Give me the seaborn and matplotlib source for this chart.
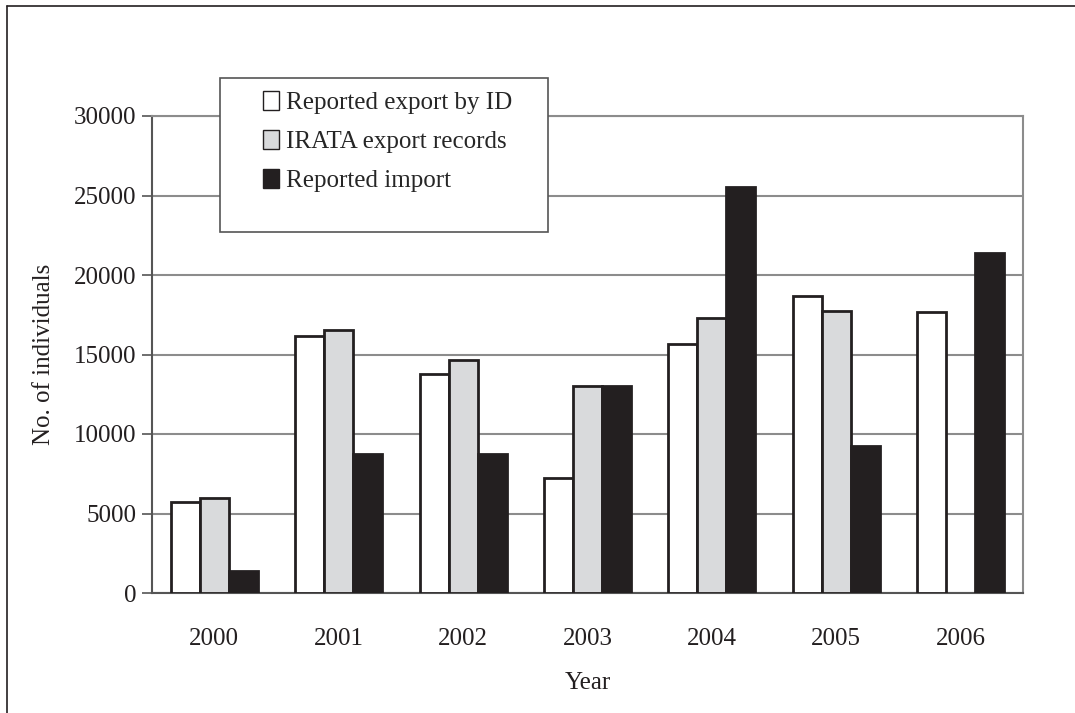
import numpy as np
import pandas as pd
import matplotlib
matplotlib.use("Agg")
import matplotlib.pyplot as plt
import seaborn as sns

# -----------------------------
# Data
# -----------------------------
years = ["2000", "2001", "2002", "2003", "2004", "2005", "2006"]
series = ["Reported export by ID", "IRATA export records", "Reported import"]
export_by_id = [5750, 16150, 13750, 7250, 15650, 18650, 17650]
irata_export = [6000, 16550, 14650, 13000, 17300, 17750, np.nan]
reported_import = [1400, 8750, 8750, 13000, 25550, 9250, 21400]

df = pd.DataFrame({
    "Year": years * 3,
    "Series": [series[0]] * 7 + [series[1]] * 7 + [series[2]] * 7,
    "Value": export_by_id + irata_export + reported_import,
})

# -----------------------------
# Style
# -----------------------------
sns.set_style("white")
plt.rcParams["font.family"] = ["Liberation Serif", "DejaVu Serif"]

palette = {series[0]: "#ffffff", series[1]: "#d9dadc", series[2]: "#231f20"}
dark = "#231f20"
grid_grey = "#8c8c8c"
fs = 18

W, H = 1075, 713
fig = plt.figure(figsize=(W / 100, H / 100), dpi=100)
ax = fig.add_axes([152 / W, 1 - 593 / H, (1023 - 152) / W, (593 - 116) / H])

sns.barplot(data=df, x="Year", y="Value", hue="Series", order=years,
            hue_order=series, palette=palette, width=0.7, gap=0,
            edgecolor=dark, linewidth=2.0, saturation=1, ax=ax, zorder=3)

ax.set_ylim(0, 30000)
ax.set_xlim(-0.5, 6.5)
ax.set_yticks(np.arange(0, 30001, 5000))
ax.yaxis.grid(True, color=grid_grey, linewidth=1.5, zorder=0)
ax.set_axisbelow(True)

# excel-style ticks between categories
ax.set_xticks(np.arange(-0.5, 7, 1), minor=True)
ax.tick_params(axis="x", which="major", length=0, pad=25, labelsize=fs, colors=dark)
ax.tick_params(axis="x", which="minor", length=7, width=1.2, color="#555555", direction="out")
ax.tick_params(axis="y", length=7, width=1.2, color="#555555", direction="out",
               pad=4, labelsize=fs, labelcolor=dark, left=True)

for s in ["left", "bottom"]:
    ax.spines[s].set_color("#555555")
    ax.spines[s].set_linewidth(1.5)
for s in ["right", "top"]:
    ax.spines[s].set_color(grid_grey)
    ax.spines[s].set_linewidth(1.5)

ax.set_xlabel("Year", fontsize=fs, color=dark, labelpad=16)
ax.set_ylabel("No. of individuals", fontsize=fs, color=dark, labelpad=14)

# legend box drawn separately so the padding matches the reference
box = plt.Rectangle((220 / W, 1 - 232 / H), (548 - 220) / W, (232 - 78) / H,
                    transform=fig.transFigure, facecolor="white",
                    edgecolor="#555555", linewidth=1.2, zorder=6, clip_on=False)
ax.add_patch(box)
leg = ax.legend(loc="upper left", bbox_to_anchor=(263 / W, 1 - 91 / H),
                bbox_transform=fig.transFigure, frameon=False, fontsize=fs,
                handlelength=0.65, handleheight=0.8, handletextpad=0.25,
                labelspacing=0.62, borderpad=0, borderaxespad=0)
leg.set_zorder(7)
for h in leg.legend_handles:
    h.set_linewidth(1.0)
leg.set_title(None)

# cropped outer frame (top and left edges only)
fig.add_artist(plt.Line2D([7 / W, 1.0], [1 - 6 / H, 1 - 6 / H],
                          transform=fig.transFigure, color=dark, linewidth=1.2))
fig.add_artist(plt.Line2D([7 / W, 7 / W], [0.0, 1 - 6 / H],
                          transform=fig.transFigure, color=dark, linewidth=1.2))

fig.savefig("out.png", dpi=100)
